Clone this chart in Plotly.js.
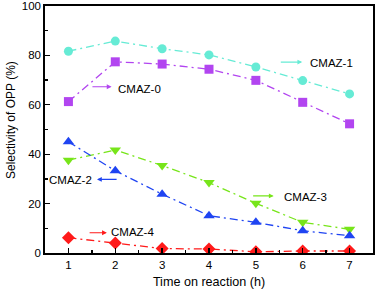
<!DOCTYPE html>
<html><head><meta charset="utf-8">
<script src="https://cdn.plot.ly/plotly-3.0.1.min.js"></script>
<style>html,body{margin:0;padding:0;background:#fff}</style>
</head><body>
<div id="chart" style="width:378px;height:293px"></div>
<script>
var time = [1, 2, 3, 4, 5, 6, 7];
var cmaz1 = [81.7, 85.8, 82.7, 80.2, 75.3, 69.8, 64.4];
var cmaz0 = [61.3, 77.4, 76.5, 74.4, 69.9, 61.0, 52.3];
var cmaz3 = [37.6, 41.7, 35.4, 28.5, 20.1, 12.4, 9.6];
var cmaz2 = [45.0, 33.3, 23.8, 15.1, 12.4, 9.0, 7.0];
var cmaz4 = [6.2, 4.0, 1.8, 1.6, 0.5, 0.8, 0.8];
var seriesNames = ['CMAZ-1', 'CMAZ-0', 'CMAZ-3', 'CMAZ-2', 'CMAZ-4'];

var colors = ['#66EBD5', '#B245F0', '#77E51A', '#1F44F2', '#FF1A1A'];
var symbols = ['circle', 'square', 'triangle-down', 'triangle-up', 'diamond'];
var sizes = [9, 9, 10, 10, 10];
var data = [cmaz1, cmaz0, cmaz3, cmaz2, cmaz4];
var traces = data.map(function (d, i) {
  return {
    x: time, y: d, name: seriesNames[i], type: 'scatter', mode: 'lines+markers',
    line: {color: colors[i], width: 1.3, dash: '8px,4px,2px,4px'},
    marker: {color: colors[i], symbol: symbols[i], size: sizes[i]}
  };
});

function arrow(x, y, ax, c) {
  return {x: x, y: y, ax: ax, ay: y, xref: 'x', yref: 'y', axref: 'x', ayref: 'y',
    text: '', showarrow: true, arrowhead: 2, arrowsize: 0.8, arrowwidth: 1.2, arrowcolor: c};
}
function label(x, y, t, anchor) {
  return {x: x, y: y, xref: 'x', yref: 'y', text: t, showarrow: false,
    xanchor: anchor, yanchor: 'middle', font: {family: 'Liberation Sans, Arial', size: 11.5, color: '#000'}};
}
var ann = [
  arrow(5.99, 77.3, 5.50, colors[0]), label(6.11, 77.0, seriesNames[0], 'left'),
  arrow(1.92, 67.3, 1.48, colors[1]), label(2.01, 66.4, seriesNames[1], 'left'),
  arrow(5.38, 23.1, 4.91, colors[2]), label(5.55, 22.8, seriesNames[2], 'left'),
  arrow(1.61, 29.8, 2.06, colors[3]), label(1.55, 29.6, seriesNames[3], 'right'),
  arrow(1.82, 8.2, 1.42, colors[4]), label(1.87, 8.4, seriesNames[4], 'left'),
  {x: -0.104, y: 0.538, xref: 'paper', yref: 'paper', text: 'Selectivity of OPP (%)',
    textangle: -90, showarrow: false, xanchor: 'center', yanchor: 'middle',
    font: {family: 'Liberation Sans, Arial', size: 12, color: '#000'}}
];

var axisCommon = {
  showgrid: false, zeroline: false, showline: true, linecolor: '#000', linewidth: 1.7,
  mirror: true, ticks: 'inside', ticklen: 5, tickwidth: 1.3, tickcolor: '#000',
  tickfont: {family: 'Liberation Sans, Arial', size: 11.5, color: '#000'}
};
var layout = {
  width: 378, height: 293,
  margin: {l: 45, r: 5, t: 6, b: 40},
  paper_bgcolor: '#fff', plot_bgcolor: '#fff',
  showlegend: false,
  font: {family: 'Liberation Sans, Arial', color: '#000'},
  xaxis: Object.assign({}, axisCommon, {
    range: [0.5, 7.5], tickvals: time, ticktext: time.map(String),
    minor: {dtick: 0.5, tick0: 0.5, ticks: 'inside', ticklen: 3, tickwidth: 1.3, tickcolor: '#000'},
    title: {text: 'Time on reaction (h)', font: {size: 12.6}, standoff: 8}
  }),
  yaxis: Object.assign({}, axisCommon, {
    range: [0, 100], dtick: 20, tick0: 0,
    minor: {dtick: 10, ticks: 'inside', ticklen: 3, tickwidth: 1.3, tickcolor: '#000'}
  }),
  annotations: ann
};
Plotly.newPlot('chart', traces, layout, {displayModeBar: false, staticPlot: true});
</script>
</body></html>
